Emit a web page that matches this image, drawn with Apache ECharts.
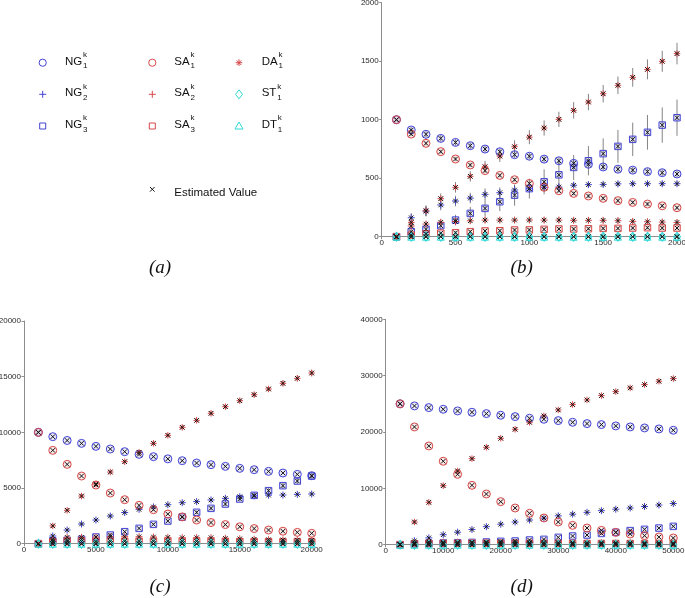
<!DOCTYPE html>
<html><head><meta charset="utf-8">
<script src="https://cdn.jsdelivr.net/npm/echarts@6/dist/echarts.min.js"></script>
<style>html,body{margin:0;padding:0;background:#fff}#c{width:685px;height:598px}</style>
</head><body><div id="c"></div>
<script>
// ---------- Panel (b) ----------
const xB = [100,200,300,400,500,600,700,800,900,1000,1100,1200,1300,1400,1500,1600,1700,1800,1900,2000];
const ng1B = [1000,912,875,840,806,778,749,726,701,688,663,649,627,619,596,577,569,556,547,536];
const ng2B = [0,162,218,271,305,330,362,376,399,410,422,425,440,445,447,452,453,453,453,453];
const ng3B = [0,43,63,94,142,199,242,299,355,411,469,529,592,649,710,772,832,892,954,1017];
const sa1B = [1000,877,798,727,664,613,565,524,487,455,422,393,370,348,328,308,293,279,264,248];
const sa2B = [0,91,108,123,130,136,142,142,142,143,142,142,140,140,140,137,131,128,125,122];
const sa3B = [0,14,25,30,34,43,49,51,57,58,63,66,66,68,71,71,74,77,74,74];
const da1B = [0,122,222,325,422,516,598,689,769,851,929,1003,1080,1151,1222,1294,1362,1430,1499,1565];
const st1B = [0,0,0,0,0,0,0,0,0,0,0,0,0,0,0,0,0,0,0,0];
const dt1B = [0,0,0,0,0,0,0,0,0,0,0,0,0,0,0,0,0,0,0,0];
// error bar half-lengths, panel (b)
const eNg1B = [0,25,25,28,28,28,28,28,28,28,28,28,28,28,28,28,28,28,28,28];
const eNg2B = [0,40,45,45,45,45,50,45,40,35,30,28,25,22,20,20,20,20,20,20];
const eNg3B = [0,20,25,35,45,55,70,80,90,85,107,114,107,125,130,140,143,148,151,155];
const eSa1B = [0,15,15,15,15,15,15,15,15,15,15,15,15,15,15,15,15,15,15,15];
const eSa2B = [0,25,25,25,25,25,25,25,25,25,25,25,25,25,25,25,25,25,25,25];
const eSa3B = [0,12,12,12,12,12,12,12,12,12,12,12,12,12,12,12,12,12,12,12];
const eDa1B = [0,40,45,45,45,45,50,50,55,60,65,65,70,70,75,75,80,85,90,92];

// ---------- Panel (c) ----------
const xC = [1000,2000,3000,4000,5000,6000,7000,8000,9000,10000,11000,12000,13000,14000,15000,16000,17000,18000,19000,20000];
const ng1C = [10000,9611,9270,9012,8743,8503,8264,8024,7815,7620,7455,7246,7096,6946,6767,6647,6497,6347,6227,6108];
const ng2C = [0,689,1228,1767,2126,2485,2800,3084,3300,3503,3683,3780,3930,4072,4220,4300,4360,4371,4431,4461];
const ng3C = [0,250,300,392,600,778,1078,1377,1737,2036,2395,2818,3174,3563,4012,4342,4761,5210,5629,6078];
const sa1C = [10000,8384,7125,6078,5269,4551,3952,3443,3054,2665,2410,2126,1900,1720,1520,1360,1228,1120,1018,931];
const sa2C = [0,392,572,572,600,630,630,630,600,572,539,539,539,482,440,400,360,340,330,320];
const sa3C = [0,150,180,200,200,210,220,220,220,220,210,210,200,200,190,190,180,180,170,170];
const da1C = [0,1600,3000,4280,5360,6437,7365,8203,9012,9731,10450,11078,11707,12306,12845,13384,13893,14402,14851,15330];
const st1C = [0,0,0,0,0,0,0,0,0,0,0,0,0,0,0,0,0,0,0,0];
const dt1C = [0,0,0,0,0,0,0,0,0,0,0,0,0,0,0,0,0,0,0,0];
const eNg3C = [0,0,0,0,0,0,50,60,80,100,120,150,180,200,220,250,300,300,300,300];
const eDa1C = [0,50,60,80,100,100,120,130,140,150,160,170,180,200,200,220,230,250,270,300];

// ---------- Panel (d) ----------
const xD = [2500,5000,7500,10000,12500,15000,17500,20000,22500,25000,27500,30000,32500,35000,37500,40000,42500,45000,47500,50000];
const ng1D = [25000,24627,24331,24035,23739,23502,23266,22970,22733,22437,22260,22023,21727,21490,21312,21076,20898,20720,20542,20306];
const ng2D = [0,700,1210,1776,2220,2690,3197,3640,4026,4381,4720,5120,5420,5742,6038,6300,6510,6780,7045,7310];
const ng3D = [0,150,250,300,350,400,480,592,651,829,947,1302,1539,1717,2000,2190,2500,2723,2950,3250];
const sa1D = [25000,20898,17523,14806,12491,10537,9000,7637,6512,5571,4736,4031,3434,2960,2546,2190,1895,1604,1367,1190];
const sa2D = [0,360,480,450,440,430,420,410,400,390,380,370,360,350,340,330,320,310,300,290];
const sa3D = [0,150,200,220,230,240,240,240,240,230,230,220,220,210,210,200,200,190,190,180];
const da1D = [0,4030,7518,10478,13083,15273,17286,18885,20483,21727,22852,23917,24864,25693,26462,27173,27824,28416,29008,29481];
const st1D = [0,0,0,0,0,0,0,0,0,0,0,0,0,0,0,0,0,0,0,0];
const dt1D = [0,0,0,0,0,0,0,0,0,0,0,0,0,0,0,0,0,0,0,0];

// axis ranges / ticks
const axB = {xMax:2000, xInt:500, yMax:2000, yInt:500};
const axC = {xMax:20000, xInt:5000, yMax:20000, yInt:5000};
const axD = {xMax:50000, xInt:10000, yMax:40000, yInt:10000};

// ---------- styles ----------
const BLUE='#4444d6', BLUEF='rgba(68,68,214,0.12)', RED='#d84848', REDF='rgba(216,72,72,0.12)', CYAN='#2fd8d8', BLACK='#151515';
const PLUS='path://M5,0L5,10M0,5L10,5';
const STAR='path://M5,0L5,10M0,5L10,5M1.6,1.6L8.4,8.4M8.4,1.6L1.6,8.4';
const XS='path://M0,0L10,10M10,0L0,10';
const STY = [
  {symbol:'circle', size:8, color:BLUE, fill:BLUEF},
  {symbol:PLUS, size:7, color:BLUE},
  {symbol:'rect', size:6.5, color:BLUE, fill:BLUEF},
  {symbol:'circle', size:8, color:RED, fill:REDF},
  {symbol:PLUS, size:7, color:RED},
  {symbol:'rect', size:6.5, color:RED, fill:REDF},
  {symbol:STAR, size:6.5, color:RED},
  {symbol:'diamond', size:[7,9], color:CYAN},
  {symbol:'triangle', size:7, color:CYAN}
];

const panels = [
  {x:xB, vals:[ng1B,ng2B,ng3B,sa1B,sa2B,sa3B,da1B,st1B,dt1B], errs:[[ng1B,eNg1B],[ng2B,eNg2B],[ng3B,eNg3B],[sa1B,eSa1B],[sa2B,eSa2B],[sa3B,eSa3B],[da1B,eDa1B]], ax:axB,
   grid:{left:381.7, top:2.7, width:295.3, height:234}},
  {x:xC, vals:[ng1C,ng2C,ng3C,sa1C,sa2C,sa3C,da1C,st1C,dt1C], errs:[[ng3C,eNg3C],[da1C,eDa1C]], ax:axC,
   grid:{left:24, top:321, width:287.7, height:222.7}},
  {x:xD, vals:[ng1D,ng2D,ng3D,sa1D,sa2D,sa3D,da1D,st1D,dt1D], errs:[], ax:axD,
   grid:{left:385.7, top:319.3, width:287.6, height:225.4}}
];

const AXC='#8c8c8c';
const grids=[], xAxes=[], yAxes=[], series=[];
panels.forEach((p,gi)=>{
  grids.push(Object.assign({outerBoundsMode:'none', containLabel:false}, p.grid));
  const common = {gridIndex:gi, type:'value', min:0, splitLine:{show:false},
    axisLine:{show:true, lineStyle:{color:AXC, width:1}},
    axisTick:{show:true, inside:false, length:2.5, lineStyle:{color:AXC}},
    axisLabel:{fontSize:8, color:'#2b2b2b', fontFamily:'Liberation Sans, Arial, sans-serif', formatter:(v)=>String(v)}};
  xAxes.push(Object.assign({}, common, {max:p.ax.xMax, interval:p.ax.xInt, axisLabel:Object.assign({}, common.axisLabel, {margin:2.5})}));
  yAxes.push(Object.assign({}, common, {max:p.ax.yMax, interval:p.ax.yInt, axisLabel:Object.assign({}, common.axisLabel, {margin:3})}));
  // error bars
  p.errs.forEach(([v,e])=>{
    const data=[];
    p.x.forEach((xv,i)=>{ if(e[i]>0) data.push([xv, v[i]-e[i], v[i]+e[i]]); });
    series.push({type:'custom', xAxisIndex:gi, yAxisIndex:gi, silent:true, clip:false, z:1, data,
      renderItem:(params, api)=>{
        const a=api.coord([api.value(0), api.value(1)]);
        const b=api.coord([api.value(0), api.value(2)]);
        return {type:'line', shape:{x1:a[0], y1:a[1], x2:b[0], y2:b[1]}, style:{stroke:'#505050', lineWidth:1, opacity:0.7}};
      }});
  });
  // marker series
  p.vals.forEach((v,k)=>{
    const s=STY[k];
    series.push({type:'scatter', xAxisIndex:gi, yAxisIndex:gi, silent:true, clip:false, z:2,
      symbol:s.symbol, symbolSize:s.size,
      itemStyle:{color:s.fill||'rgba(0,0,0,0)', borderColor:s.color, borderWidth:1, opacity:1},
      data:p.x.map((xv,i)=>[xv, v[i]])});
  });
  // estimated values (black x) on each point
  const est=[];
  p.vals.forEach(v=>p.x.forEach((xv,i)=>est.push([xv, v[i]])));
  series.push({type:'scatter', xAxisIndex:gi, yAxisIndex:gi, silent:true, clip:false, z:3,
    symbol:XS, symbolSize:4.5,
    itemStyle:{color:'rgba(0,0,0,0)', borderColor:BLACK, borderWidth:1, opacity:1}, data:est});
});

// ---------- legend panel (a) as graphics ----------
function ln(x1,y1,x2,y2,c){return {type:'line', shape:{x1,y1,x2,y2}, style:{stroke:c, lineWidth:1}};}
function marker(type,cx,cy,c){
  const st={fill:'none', stroke:c, lineWidth:1};
  switch(type){
    case 'circle': return [{type:'circle', shape:{cx,cy,r:3.6}, style:st}];
    case 'plus': return [ln(cx-3.5,cy,cx+3.5,cy,c), ln(cx,cy-3.5,cx,cy+3.5,c)];
    case 'rect': return [{type:'rect', shape:{x:cx-3,y:cy-3,width:6,height:6}, style:st}];
    case 'star': return [ln(cx-3.3,cy,cx+3.3,cy,c), ln(cx,cy-3.3,cx,cy+3.3,c), ln(cx-2.3,cy-2.3,cx+2.3,cy+2.3,c), ln(cx+2.3,cy-2.3,cx-2.3,cy+2.3,c)];
    case 'diamond': return [{type:'polygon', shape:{points:[[cx,cy-4.5],[cx+3.5,cy],[cx,cy+4.5],[cx-3.5,cy]]}, style:st}];
    case 'triangle': return [{type:'polygon', shape:{points:[[cx,cy-4],[cx+4,cy+3],[cx-4,cy+3]]}, style:st}];
    case 'x': return [ln(cx-2.3,cy-2.3,cx+2.3,cy+2.3,c), ln(cx+2.3,cy-2.3,cx-2.3,cy+2.3,c)];
  }
}
const legNames = ['NG','NG','NG','SA','SA','SA','DA','ST','DT'];
const legSubs = ['1','2','3','1','2','3','1','1','1'];
const legTypes = ['circle','plus','rect','circle','plus','rect','star','diamond','triangle'];
const legColors = [BLUE,BLUE,BLUE,RED,RED,RED,RED,CYAN,CYAN];
const colMX=[42.7,152.3,239.0], colTX=[65,174.3,261.7], rowY=[62.7,94.3,126];
const FONT='Liberation Sans, Arial, sans-serif';
const mctx=document.createElement('canvas').getContext('2d');
mctx.font='11.5px "Liberation Sans"';
const graphics=[];
legNames.forEach((nm,i)=>{
  const col=Math.floor(i/3), row=i%3;
  const mx=colMX[col], my=rowY[row], tx=colTX[col], ty=my-1;
  marker(legTypes[i], mx, my, legColors[i]).forEach(g=>graphics.push(g));
  const w=mctx.measureText(nm).width;
  graphics.push({type:'text', x:tx, y:ty, style:{text:nm, fontSize:11.5, fontFamily:FONT, fill:'#111', textAlign:'left', textVerticalAlign:'middle'}});
  graphics.push({type:'text', x:tx+w+0.8, y:ty-7, style:{text:'k', fontSize:8, fontFamily:FONT, fill:'#111', textAlign:'left', textVerticalAlign:'middle'}});
  graphics.push({type:'text', x:tx+w+0.8, y:ty+4.5, style:{text:legSubs[i], fontSize:8, fontFamily:FONT, fill:'#111', textAlign:'left', textVerticalAlign:'middle'}});
});
marker('x',152.3,189.3,BLACK).forEach(g=>graphics.push(g));
graphics.push({type:'text', x:174.3, y:192.8, style:{text:'Estimated Value', fontSize:11.5, fontFamily:FONT, fill:'#111', textAlign:'left', textVerticalAlign:'middle'}});
const panelLabels=[['(a)',160,268],['(b)',521.7,268],['(c)',160,586.7],['(d)',521.7,586.7]];
panelLabels.forEach(([t,x,y])=>graphics.push({type:'text', x, y, style:{text:t, fontSize:19, fontStyle:'italic', fontFamily:'Liberation Serif, Times New Roman, serif', fill:'#111', textAlign:'center', textVerticalAlign:'middle'}}));

const chart=echarts.init(document.getElementById('c'), null, {renderer:'canvas'});
chart.setOption({animation:false, backgroundColor:'#fff', grid:grids, xAxis:xAxes, yAxis:yAxes, series, graphic:{elements:graphics}});
</script></body></html>
